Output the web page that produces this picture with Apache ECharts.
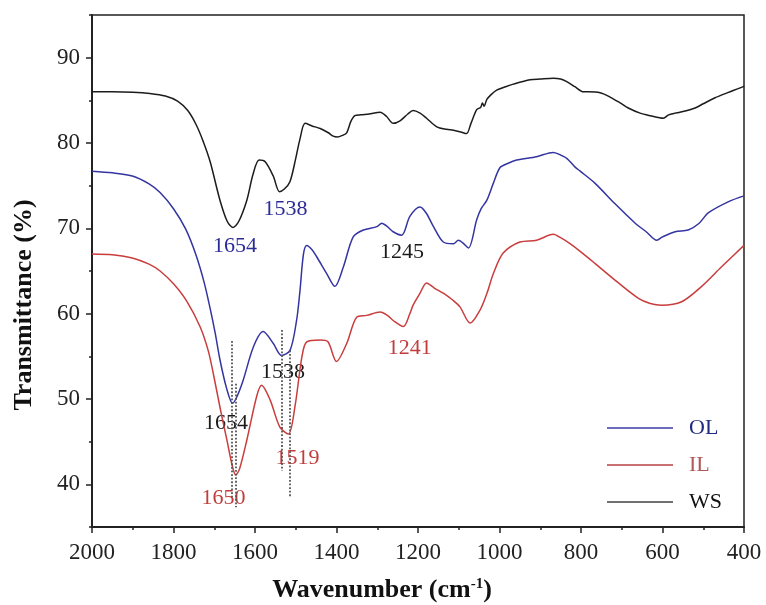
<!DOCTYPE html>
<html>
<head>
<meta charset="utf-8">
<script src="https://cdn.jsdelivr.net/npm/echarts@6/dist/echarts.min.js"></script>
<style>
  html, body { margin: 0; padding: 0; background: #fff; }
  #chart { width: 766px; height: 605px; }
</style>
</head>
<body>
<div id="chart"></div>
<script>
// WS spectrum
var wnWS = [2000, 1950, 1900, 1858, 1820, 1790, 1765, 1745, 1728, 1710, 1686, 1668, 1654, 1640, 1620, 1605, 1590,
    1575, 1555, 1540, 1528, 1514, 1500, 1490, 1477, 1460, 1440, 1420, 1408, 1398, 1385, 1375, 1365, 1355, 1340,
    1320, 1293, 1277, 1261, 1244, 1225, 1212, 1195, 1179, 1154, 1130, 1113, 1095, 1081, 1070, 1056, 1046, 1042,
    1038, 1031, 1020, 1007, 985, 966, 925, 900, 868, 850, 835, 815, 794, 782, 753, 733, 704, 684, 655, 630, 598,
    585, 569, 557, 520, 500, 471, 440, 402, 400];
var tWS = [86.0, 86.0, 85.95, 85.8, 85.5, 84.9, 83.8, 82.2, 80.3, 77.8, 73.3, 70.8, 70.1, 70.8, 73.3, 76.3, 78.0,
    77.8, 76.1, 74.3, 74.6, 75.5, 78.2, 80.4, 82.3, 82.0, 81.7, 81.2, 80.8, 80.7, 80.9, 81.2, 82.5, 83.2, 83.3,
    83.4, 83.6, 83.1, 82.3, 82.6, 83.4, 83.8, 83.5, 82.9, 81.9, 81.6, 81.5, 81.3, 81.1, 82.3, 83.9, 84.2, 84.7,
    84.3, 85.1, 85.7, 86.2, 86.6, 86.9, 87.4, 87.5, 87.6, 87.5, 87.2, 86.6, 86.0, 86.0, 85.9, 85.5, 84.7, 84.1,
    83.5, 83.2, 82.9, 83.3, 83.5, 83.6, 84.1, 84.6, 85.3, 85.9, 86.6, 86.7];

// OL spectrum
var wnOL = [2000, 1950, 1899, 1860, 1833, 1800, 1770, 1745, 1725, 1710, 1698, 1686, 1670, 1655, 1645, 1629,
    1604, 1580, 1555, 1535, 1514, 1498, 1490, 1481, 1473, 1460, 1449, 1424, 1404, 1383, 1359, 1334, 1301, 1289,
    1275, 1261, 1240, 1220, 1195, 1180, 1162, 1138, 1113, 1101, 1090, 1076, 1056, 1045, 1031, 1015, 999, 980,
    958, 909, 868, 855, 835, 815, 802, 766, 717, 667, 640, 614, 600, 569, 537, 510, 488, 439, 400];
var tOL = [76.7, 76.5, 76.1, 75.2, 74.2, 72.3, 69.9, 66.9, 63.7, 60.6, 57.8, 54.6, 51.3, 49.5, 50.2, 52.2,
    56.1, 57.9, 56.5, 55.1, 55.7, 59.2, 62.5, 67.0, 68.0, 67.5, 66.7, 64.7, 63.2, 65.5, 69.0, 69.8, 70.2, 70.6,
    70.2, 69.6, 69.2, 71.4, 72.5, 71.8, 70.2, 68.4, 68.2, 68.6, 68.3, 67.7, 71.0, 72.3, 73.3, 75.3, 77.1, 77.6,
    78.0, 78.4, 78.9, 78.7, 78.2, 77.2, 76.7, 75.3, 72.9, 70.6, 69.6, 68.6, 69.0, 69.6, 69.8, 70.6, 71.8, 73.1, 73.8];

// IL spectrum
var wnIL = [2000, 1950, 1899, 1860, 1833, 1800, 1768, 1735, 1715, 1702, 1685, 1669, 1655, 1647, 1638, 1620,
    1596, 1584, 1563, 1539, 1518, 1502, 1485, 1473, 1440, 1421, 1400, 1375, 1350, 1326, 1293, 1275, 1261, 1236,
    1220, 1212, 1195, 1179, 1160, 1138, 1115, 1097, 1072, 1048, 1030, 1015, 991, 950, 909, 868, 850, 827, 802,
    766, 708, 659, 630, 602, 553, 504, 455, 400];
var tIL = [67.0, 66.9, 66.5, 65.8, 65.0, 63.5, 61.5, 58.5, 55.7, 52.9, 48.8, 45.2, 42.0, 41.1, 41.8, 45.2,
    50.3, 51.6, 49.9, 46.7, 45.9, 49.1, 54.9, 56.7, 56.9, 56.7, 54.4, 56.5, 59.6, 59.8, 60.2, 59.8, 59.2, 58.5,
    60.0, 61.0, 62.4, 63.6, 63.0, 62.4, 61.6, 60.8, 58.9, 60.4, 62.5, 64.7, 67.1, 68.4, 68.6, 69.3, 68.9, 68.2,
    67.3, 65.9, 63.6, 61.8, 61.2, 61.0, 61.4, 63.2, 65.5, 68.0];

// peak annotations: [wavenumber, transmittance, text]
var notesOL = [[1525, 72.2, '1538'], [1649, 67.9, '1654']];
var notesWS = [[1239, 67.2, '1245'], [1531, 53.1, '1538'], [1671, 47.2, '1654']];
var notesIL = [[1220, 55.9, '1241'], [1496, 43.1, '1519'], [1677, 38.4, '1650']];

// dotted guide lines: [wavenumber, from, to]
var guides = [[1656, 56.8, 38.5], [1648, 51.8, 37.3], [1534, 58.1, 41.6], [1514, 55.7, 38.5]];

var xTicks = [2000, 1800, 1600, 1400, 1200, 1000, 800, 600, 400];
var yTicks = [40, 50, 60, 70, 80, 90];
var yMinor = [35, 45, 55, 65, 75, 85, 95];

var serif = 'Liberation Serif';
var colWS = '#1c1c1c', colOL = '#3434a2', colIL = '#c93d3d';

function zip(xs, ys) {
    return xs.map(function (x, i) { return [x, ys[i]]; });
}

function noteSeries(notes, color) {
    return {
        type: 'scatter',
        symbolSize: 0,
        silent: true,
        itemStyle: {opacity: 1},
        data: notes.map(function (n) { return {value: [n[0], n[1]], name: n[2]}; }),
        label: {
            show: true,
            position: 'inside',
            formatter: '{b}',
            color: color,
            opacity: 1,
            fontFamily: serif,
            fontSize: 22
        }
    };
}

function lineSeries(name, xs, ys, color) {
    return {
        name: name,
        type: 'line',
        showSymbol: false,
        smooth: 0.3,
        data: zip(xs, ys),
        lineStyle: {color: color, width: 1.5},
        itemStyle: {color: color}
    };
}

var myChart = echarts.init(document.getElementById('chart'));

var option = {
    animation: false,
    backgroundColor: '#fff',
    grid: {
        left: 92, right: 22, top: 15, bottom: 78,
        show: true, borderColor: '#222', borderWidth: 1.5
    },
    legend: {
        orient: 'vertical',
        left: 602, top: 412,
        icon: 'rect',
        itemWidth: 66, itemHeight: 2, itemGap: 15,
        textStyle: {fontFamily: serif, fontSize: 22, lineHeight: 22, padding: [0, 0, 0, 11]},
        data: [
            {name: 'OL', itemStyle: {color: '#6c6cbc'}, textStyle: {color: '#1f2a80'}},
            {name: 'IL', itemStyle: {color: '#c97070'}, textStyle: {color: '#b05858'}},
            {name: 'WS', itemStyle: {color: '#707070'}, textStyle: {color: '#111'}}
        ]
    },
    graphic: [
        {
            type: 'text', x: 24, y: 305, rotation: Math.PI / 2,
            style: {
                text: 'Transmittance (%)', fill: '#111',
                font: 'bold 26px "Liberation Serif"',
                align: 'center', verticalAlign: 'middle'
            }
        },
        {
            type: 'text', x: 382, y: 590,
            style: {
                text: 'Wavenumber (cm{s|-1})', fill: '#111',
                font: 'bold 26px "Liberation Serif"',
                align: 'center', verticalAlign: 'middle',
                rich: {s: {fontSize: 15, fontWeight: 'bold', fontFamily: serif, verticalAlign: 'top', padding: [0, 0, 10, 0]}}
            }
        }
    ],
    xAxis: {
        type: 'value',
        inverse: true,
        min: 400, max: 2000, interval: 200,
        axisLine: {show: true, onZero: false, lineStyle: {color: '#222', width: 2}},
        axisTick: {show: true, length: 6, lineStyle: {color: '#222', width: 1.5}},
        minorTick: {show: true, splitNumber: 2, length: 3, lineStyle: {color: '#222', width: 1.5}},
        axisLabel: {
            customValues: xTicks,
            formatter: function (v) { return String(v); },
            color: '#222', fontFamily: serif, fontSize: 23, margin: 14
        },
        splitLine: {show: false}
    },
    yAxis: [
        {
            type: 'value',
            min: 35, max: 95,
            axisLine: {show: true, onZero: false, lineStyle: {color: '#222', width: 2}},
            axisTick: {show: true, length: 6, customValues: yTicks, lineStyle: {color: '#222', width: 1.5}},
            axisLabel: {customValues: yTicks, color: '#222', fontFamily: serif, fontSize: 23, margin: 12},
            splitLine: {show: false}
        },
        {
            type: 'value',
            position: 'left',
            min: 35, max: 95,
            axisLine: {show: false},
            axisTick: {show: true, length: 3, customValues: yMinor, lineStyle: {color: '#222', width: 1.5}},
            axisLabel: {show: false},
            splitLine: {show: false}
        }
    ],
    series: [
        lineSeries('WS', wnWS, tWS, colWS),
        lineSeries('OL', wnOL, tOL, colOL),
        lineSeries('IL', wnIL, tIL, colIL),
        noteSeries(notesOL, '#2c2c98'),
        noteSeries(notesWS, '#1a1a1a'),
        noteSeries(notesIL, '#c23c3c'),
        {
            type: 'line',
            data: [],
            silent: true,
            markLine: {
                symbol: 'none',
                silent: true,
                label: {show: false},
                lineStyle: {color: '#555', type: 'dotted', width: 1.8},
                data: guides.map(function (g) {
                    return [{coord: [g[0], g[1]]}, {coord: [g[0], g[2]]}];
                })
            }
        }
    ]
};

myChart.setOption(option);
</script>
</body>
</html>
